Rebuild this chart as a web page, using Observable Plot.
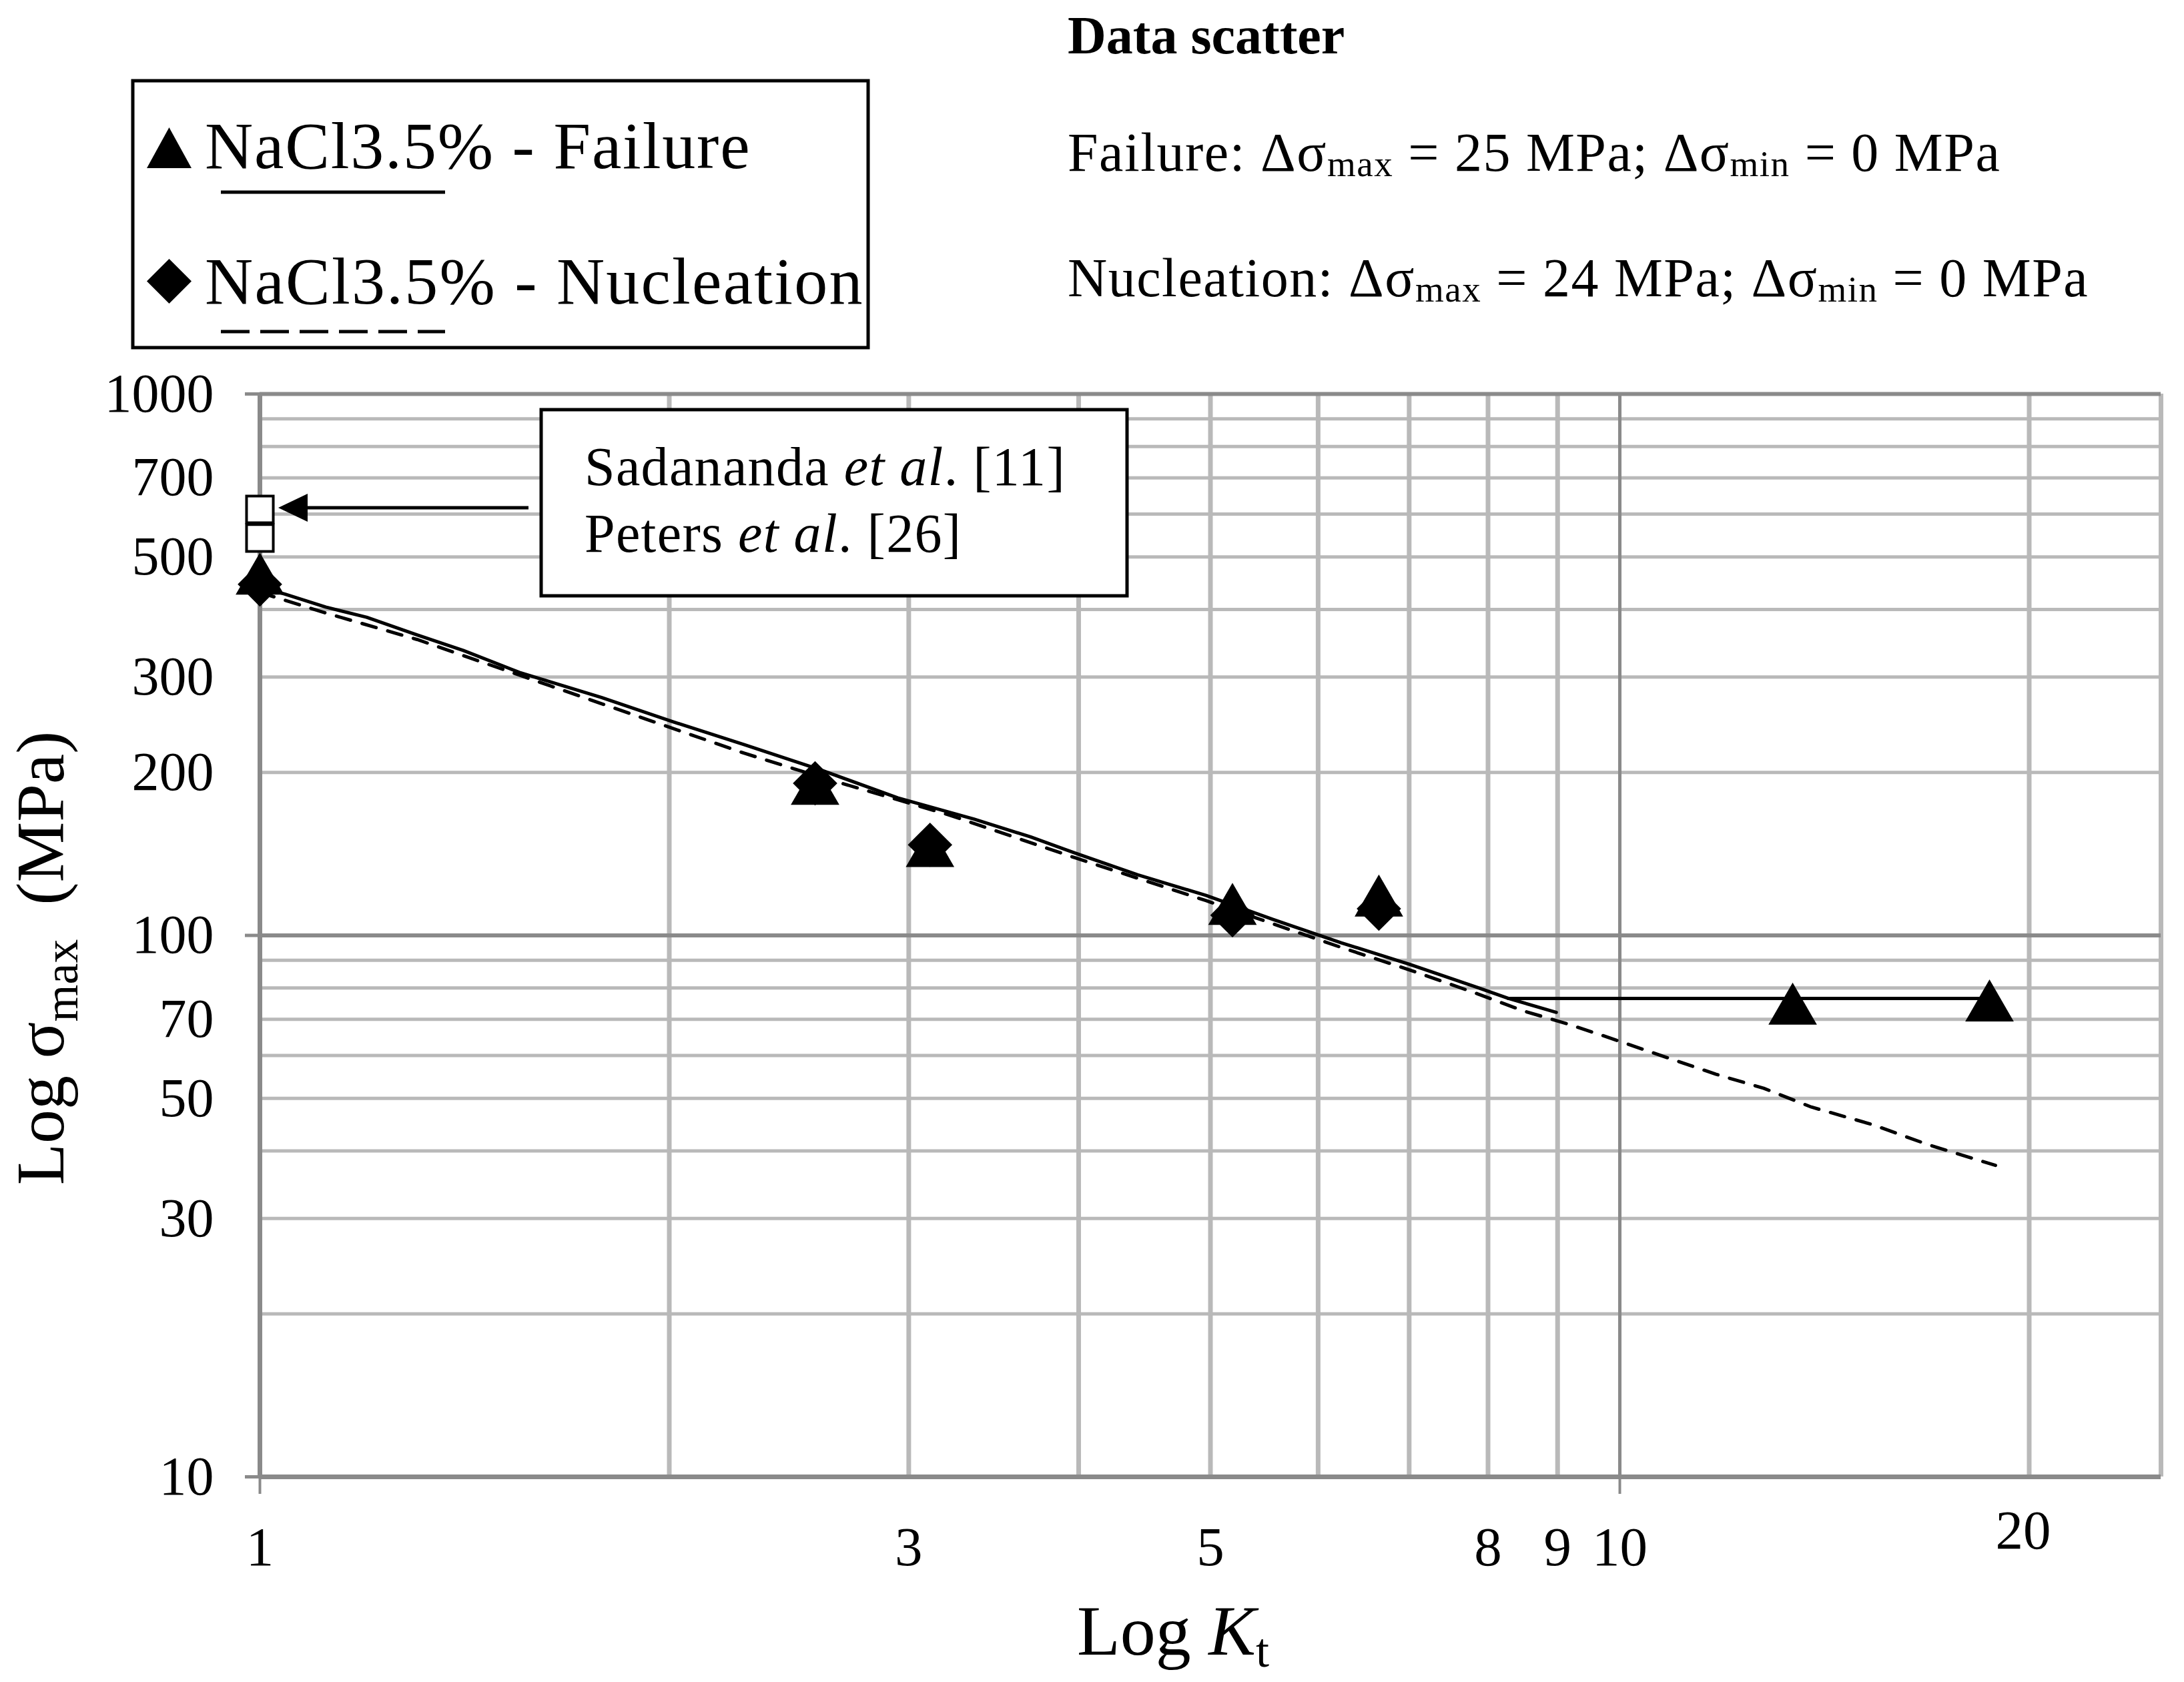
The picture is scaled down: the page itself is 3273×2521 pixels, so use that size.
<!DOCTYPE html>
<html><head><meta charset="utf-8">
<script src="https://cdn.jsdelivr.net/npm/d3@7"></script>
<script src="https://cdn.jsdelivr.net/npm/@observablehq/plot@0.6"></script>
<style>
html,body{margin:0;padding:0;background:#fff;}
#chart{position:relative;width:3273px;height:2521px;}
</style></head><body><div id="chart"></div>
<script>
// Experimental points
const failureKt = [1, 2.56, 3.11, 5.19, 6.65, 13.4, 18.7];
const failureSigma = [452, 185, 142, 111, 115, 72.6, 73.6];
const nucleationKt = [1, 2.56, 3.11, 5.19, 6.65];
const nucleationSigma = [445, 191, 147, 109, 112];
// Literature points (Sadananda et al. [11], Peters et al. [26])
const literatureKt = [1, 1];
const literatureSigma = [612, 542];
// Failure curve (solid)
const failureCurveKt = [1, 1.043, 1.118, 1.198, 1.305, 1.411, 1.552, 1.783, 2.013, 2.271, 2.586, 2.945, 3.35, 3.688, 3.98, 4.42, 4.96, 5.56, 6.24, 7.0, 7.86, 8.28, 8.98];
const failureCurveSigma = [440, 427, 404, 387, 359, 336, 306, 275, 248, 225, 202, 179.5, 164, 152, 141.8, 129.4, 118.6, 107, 96.9, 88.5, 80.1, 76.5, 72.1];
// Failure plateau (solid horizontal)
const plateauKt = [8.28, 18.7];
const plateauSigma = [76.5, 76.5];
// Nucleation curve (dashed)
const nucleationCurveKt = [1, 1.118, 1.305, 1.635, 2.271, 2.586, 3.21, 3.98, 4.96, 6.24, 7.0, 7.86, 8.5, 9.14, 9.79, 10.62, 11.77, 12.76, 13.83, 15.35, 16.84, 18.89];
const nucleationCurveSigma = [430, 394, 352, 289, 217, 196, 167, 139, 116, 95, 86.4, 78, 72.5, 68.7, 64.9, 60.5, 55.4, 52.2, 48.2, 44.7, 41.1, 37.6];
// Ticks and grid
const xTickLabels = [1, 3, 5, 8, 9, 10];
const xTickLabelsHigh = [20];
const xMinorGrid = [2, 3, 4, 5, 6, 7, 8, 9, 20, 25];
const xMajorGrid = [10];
const yTickLabels = [10, 30, 50, 70, 100, 200, 300, 500, 700, 1000];
const yMinorGrid = [20, 30, 40, 50, 60, 70, 80, 90, 200, 300, 400, 500, 600, 700, 800, 900];
const yMajorGrid = [100, 1000];

const zip = (xs, ys) => xs.map((x, i) => ({x, y: ys[i]}));
const FONT = "'Liberation Serif','Times New Roman',serif";
const LIGHT = "#b9b9b9", DARK = "#8a8a8a";

const plot = Plot.plot({
  width: 3273, height: 2521,
  marginLeft: 389, marginRight: 35, marginTop: 590, marginBottom: 308,
  style: {fontFamily: FONT, fontSize: "82px", color: "black", background: "white"},
  x: {type: "log", domain: [1, 25], label: null},
  y: {type: "log", domain: [10, 1000], label: null},
  marks: [
    Plot.ruleX(xMinorGrid, {stroke: LIGHT, strokeWidth: 7}),
    Plot.ruleY(yMinorGrid, {stroke: LIGHT, strokeWidth: 5}),
    Plot.ruleX(xMajorGrid, {stroke: DARK, strokeWidth: 5}),
    Plot.ruleY(yMajorGrid, {stroke: DARK, strokeWidth: 6}),
    Plot.ruleY([10], {stroke: DARK, strokeWidth: 7}),
    Plot.ruleX([1], {stroke: DARK, strokeWidth: 7}),
    // tick labels
    Plot.text(yTickLabels, {y: d => d, text: d => String(d), frameAnchor: "left", dx: -69, textAnchor: "end", fontSize: 82, fill: "black"}),
    Plot.text(xTickLabels, {x: d => d, text: d => String(d), frameAnchor: "bottom", dy: 74, lineAnchor: "top", fontSize: 83, fill: "black"}),
    Plot.text(xTickLabelsHigh, {x: d => d, text: d => String(d), frameAnchor: "bottom", dy: 49, dx: -9, lineAnchor: "top", fontSize: 83, fill: "black"}),
    // tick marks
    Plot.axisY({ticks: [10, 100, 1000], tickSize: 22, tickFormat: () => "", stroke: DARK, strokeWidth: 5, label: null}),
    Plot.axisX({ticks: [1, 10], tickSize: 26, tickFormat: () => "", stroke: DARK, strokeWidth: 4, label: null}),
    // curves
    Plot.line(zip(failureCurveKt, failureCurveSigma), {x: "x", y: "y", stroke: "black", strokeWidth: 5}),
    Plot.line(zip(plateauKt, plateauSigma), {x: "x", y: "y", stroke: "black", strokeWidth: 5}),
    Plot.line(zip(nucleationCurveKt, nucleationCurveSigma), {x: "x", y: "y", stroke: "black", strokeWidth: 5, strokeDasharray: "22,18"}),
    // points
    Plot.dot(zip(literatureKt, literatureSigma), {x: "x", y: "y", symbol: "square", r: 22.6, fill: "white", stroke: "black", strokeWidth: 4}),
    Plot.dot(zip(nucleationKt, nucleationSigma), {x: "x", y: "y", symbol: "diamond2", r: 30, fill: "black", stroke: "none"}),
    Plot.dot(zip(failureKt, failureSigma), {x: "x", y: "y", symbol: "triangle", r: 27, fill: "black", stroke: "none"})
  ]
});
document.getElementById("chart").appendChild(plot);

const svg = d3.select(plot);
const g = svg.append("g").attr("font-family", FONT).attr("fill", "black").attr("text-anchor", "start");

function rich(x, y, parts, size, opts = {}) {
  const t = g.append("text").attr("x", x).attr("y", y).attr("font-size", size)
    .attr("text-anchor", opts.anchor || "start");
  if (opts.transform) t.attr("transform", opts.transform).attr("x", 0).attr("y", 0);
  if (opts.spacing) t.attr("letter-spacing", opts.spacing);
  if (opts.weight) t.attr("font-weight", opts.weight);
  t.attr("style", "white-space:pre");
  let shift = 0;
  for (const p of parts) {
    const s = t.append("tspan").text(p.t);
    const target = p.sub ? (p.subDy || size * 0.12) : 0;
    if (target !== shift) { s.attr("dy", target - shift); shift = target; }
    if (p.sub) s.attr("font-size", p.subSize || size * 0.67);
    if (p.italic) s.attr("font-style", "italic");
  }
  return t;
}

// Legend box
g.append("rect").attr("x", 199).attr("y", 121).attr("width", 1102).attr("height", 400)
  .attr("fill", "white").attr("stroke", "black").attr("stroke-width", 5);
g.append("path").attr("d", "M253.5,191L287,252L220,252Z").attr("fill", "black");
rich(307, 252, [{t: "NaCl3.5% - Failure"}], 100, {spacing: 1.8});
g.append("line").attr("x1", 331).attr("x2", 667).attr("y1", 288).attr("y2", 288).attr("stroke", "black").attr("stroke-width", 5);
g.append("path").attr("d", "M253.5,388L287,421.5L253.5,455L220,421.5Z").attr("fill", "black");
rich(307, 455, [{t: "NaCl3.5% - Nucleation"}], 100, {spacing: 2.2});
g.append("line").attr("x1", 331).attr("x2", 667).attr("y1", 497).attr("y2", 497).attr("stroke", "black").attr("stroke-width", 5).attr("stroke-dasharray", "43,16");

// Data scatter text
rich(1600, 80, [{t: "Data scatter"}], 80, {weight: "bold"});
rich(1600, 256, [{t: "Failure: Δσ"}, {t: "max", sub: true, subDy: 8, subSize: 55}, {t: " = 25 MPa; Δσ"}, {t: "min", sub: true, subDy: 8, subSize: 55}, {t: " = 0 MPa"}], 82, {spacing: 1.5});
rich(1600, 444, [{t: "Nucleation: Δσ"}, {t: "max", sub: true, subDy: 8, subSize: 55}, {t: " = 24 MPa; Δσ"}, {t: "min", sub: true, subDy: 8, subSize: 55}, {t: " = 0 MPa"}], 82, {spacing: 1.5});

// Annotation box and arrow
g.append("rect").attr("x", 811).attr("y", 614).attr("width", 878).attr("height", 279)
  .attr("fill", "white").attr("stroke", "black").attr("stroke-width", 5);
rich(876, 727, [{t: "Sadananda "}, {t: "et al", italic: true}, {t: ". [11]"}], 82, {spacing: 1.3});
rich(876, 827, [{t: "Peters "}, {t: "et al", italic: true}, {t: ". [26]"}], 82, {spacing: 1.3});
g.append("line").attr("x1", 792).attr("x2", 455).attr("y1", 761).attr("y2", 761).attr("stroke", "black").attr("stroke-width", 5);
g.append("path").attr("d", "M417,761L461,740L461,782Z").attr("fill", "black");

// Axis titles
rich(1614, 2480, [{t: "Log "}, {t: "K", italic: true}, {t: "t", sub: true, subDy: 18, subSize: 72}], 106);
rich(0, 0, [{t: "Log σ"}, {t: "max", sub: true, subDy: 21, subSize: 72}, {t: "  (MPa)"}], 102,
  {anchor: "middle", transform: "translate(95,1436) rotate(-90)"});
</script></body></html>
